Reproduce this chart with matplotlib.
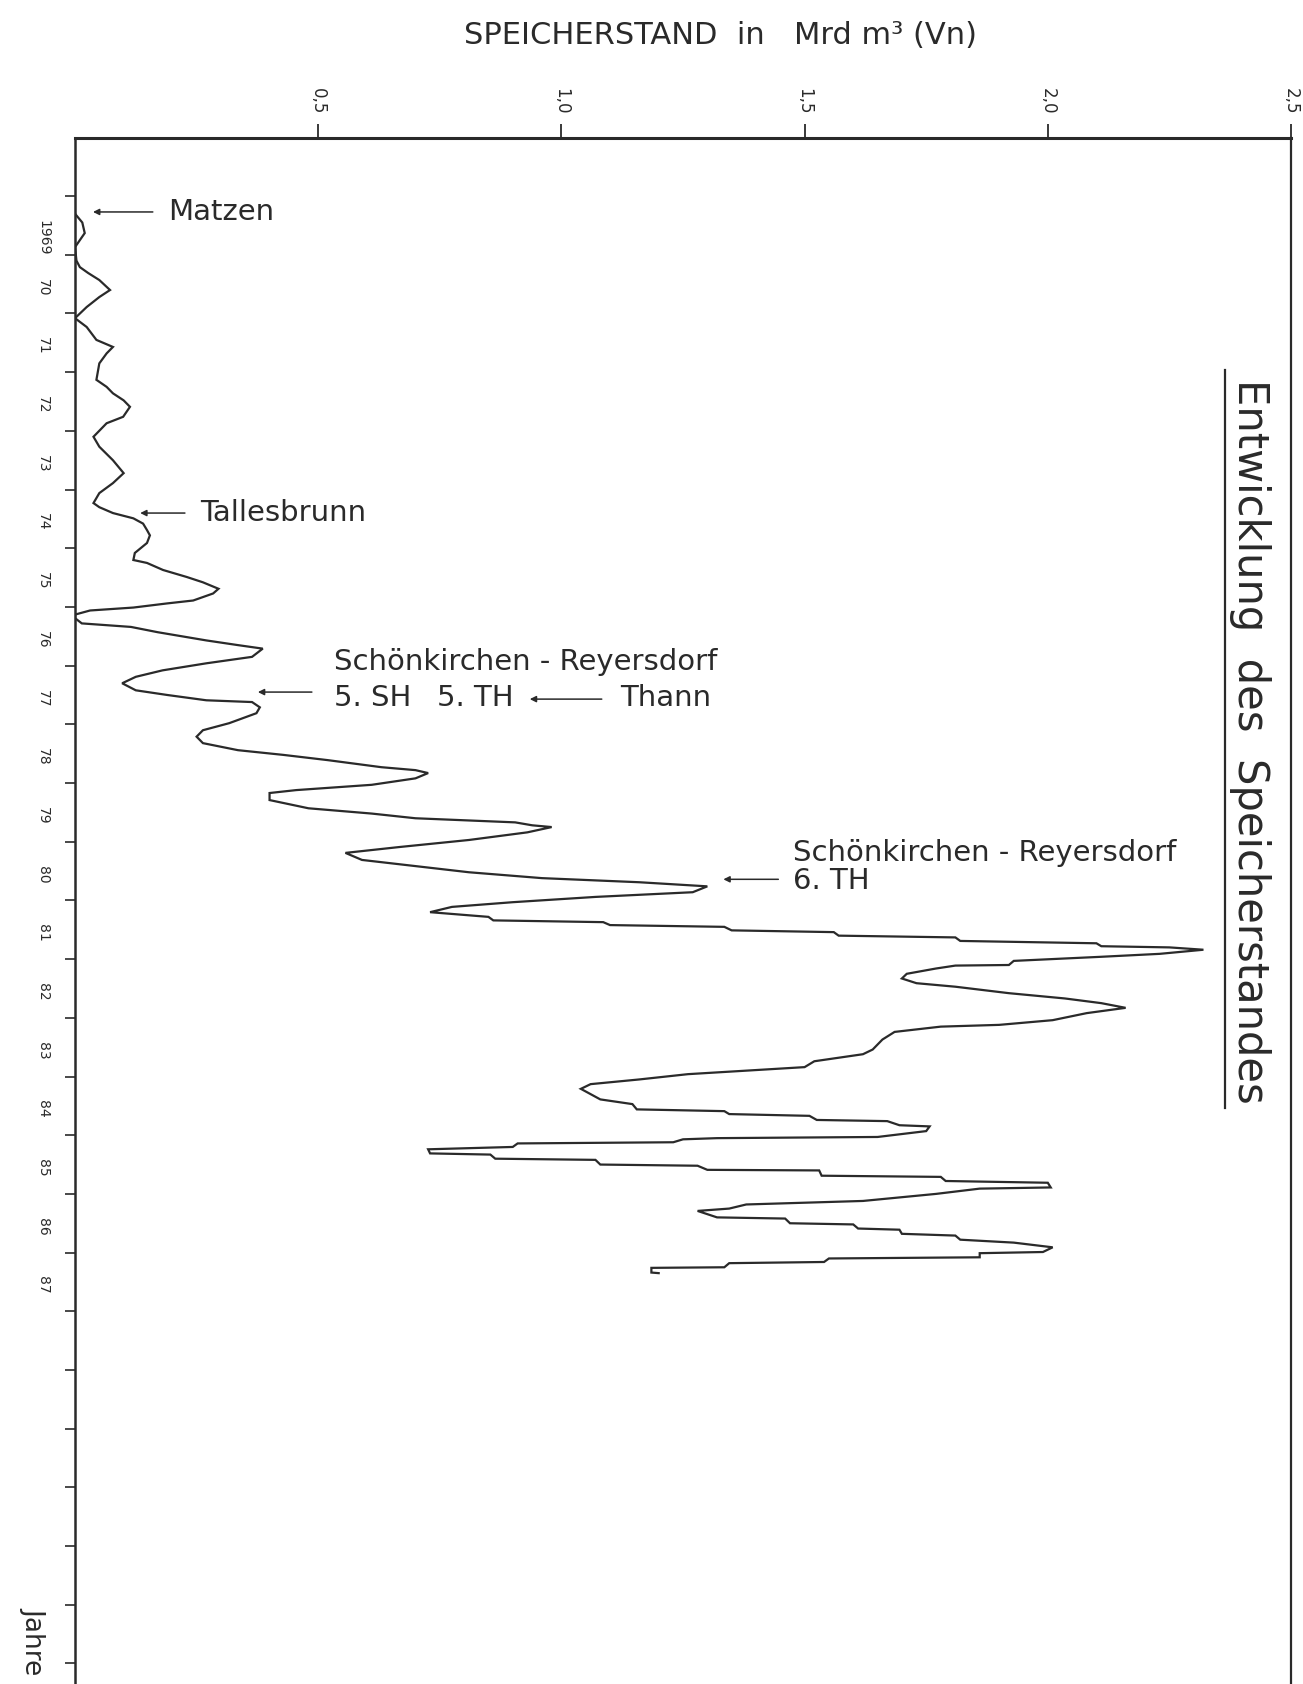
import matplotlib
matplotlib.use("Agg")
import matplotlib.pyplot as plt
from matplotlib.lines import Line2D

# storage level (Mrd m3 Vn) against time (decimal years)
years = [1969.30, 1969.45, 1969.63, 1969.75, 1969.87, 1970.10, 1970.21, 1970.31, 1970.43, 1970.60,
         1970.72, 1970.89, 1971.08, 1971.23, 1971.45, 1971.57, 1971.68, 1971.85, 1972.13, 1972.25,
         1972.36, 1972.48, 1972.59, 1972.76, 1972.87, 1973.10, 1973.27, 1973.50, 1973.72, 1973.89,
         1974.06, 1974.23, 1974.30, 1974.40, 1974.49, 1974.58, 1974.69, 1974.78, 1974.91, 1975.08,
         1975.20, 1975.25, 1975.37, 1975.49, 1975.58, 1975.69, 1975.77, 1975.89, 1975.94, 1976.01,
         1976.06, 1976.13, 1976.19, 1976.28, 1976.34, 1976.43, 1976.57, 1976.65, 1976.71, 1976.85,
         1976.96, 1977.08, 1977.19, 1977.30, 1977.42, 1977.50, 1977.59, 1977.62, 1977.71, 1977.81,
         1977.98, 1978.10, 1978.21, 1978.32, 1978.44, 1978.52, 1978.61, 1978.73, 1978.78, 1978.83,
         1978.92, 1979.03, 1979.12, 1979.17, 1979.29, 1979.43, 1979.52, 1979.60, 1979.67, 1979.72,
         1979.75, 1979.84, 1979.97, 1980.09, 1980.19, 1980.31, 1980.40, 1980.52, 1980.62, 1980.69,
         1980.76, 1980.86, 1980.94, 1981.03, 1981.11, 1981.20, 1981.28, 1981.34, 1981.37, 1981.42,
         1981.45, 1981.51, 1981.54, 1981.60, 1981.63, 1981.69, 1981.73, 1981.78, 1981.80, 1981.84,
         1981.91, 1981.96, 1982.03, 1982.10, 1982.11, 1982.16, 1982.25, 1982.33, 1982.41, 1982.47,
         1982.58, 1982.67, 1982.75, 1982.83, 1982.92, 1983.04, 1983.12, 1983.15, 1983.24, 1983.37,
         1983.54, 1983.62, 1983.74, 1983.84, 1983.91, 1983.96, 1984.05, 1984.13, 1984.21, 1984.39,
         1984.47, 1984.56, 1984.59, 1984.64, 1984.67, 1984.74, 1984.76, 1984.83, 1984.85, 1984.93,
         1985.03, 1985.05, 1985.07, 1985.12, 1985.14, 1985.20, 1985.24, 1985.31, 1985.33, 1985.40,
         1985.42, 1985.50, 1985.52, 1985.59, 1985.60, 1985.69, 1985.71, 1985.78, 1985.81, 1985.89,
         1985.91, 1986.00, 1986.12, 1986.18, 1986.25, 1986.29, 1986.40, 1986.42, 1986.50, 1986.52,
         1986.59, 1986.61, 1986.68, 1986.71, 1986.78, 1986.83, 1986.88, 1986.91, 1986.99, 1987.01,
         1987.08, 1987.10, 1987.16, 1987.18, 1987.25, 1987.26, 1987.34, 1987.35]
storage = [0.00, 0.015, 0.02, 0.01, 0.00, 0.003, 0.01, 0.027, 0.05, 0.072,
           0.05, 0.024, 0.00, 0.024, 0.044, 0.078, 0.065, 0.05, 0.044, 0.065,
           0.078, 0.10, 0.113, 0.099, 0.065, 0.038, 0.05, 0.078, 0.10, 0.078,
           0.05, 0.038, 0.05, 0.078, 0.12, 0.14, 0.148, 0.154, 0.148, 0.123,
           0.12, 0.148, 0.181, 0.23, 0.263, 0.295, 0.284, 0.243, 0.189, 0.12,
           0.031, 0.00, 0.00, 0.014, 0.115, 0.17, 0.27, 0.335, 0.386, 0.364,
           0.27, 0.18, 0.125, 0.097, 0.125, 0.19, 0.27, 0.364, 0.38, 0.373,
           0.317, 0.263, 0.25, 0.263, 0.335, 0.428, 0.52, 0.63, 0.70, 0.726,
           0.70, 0.61, 0.455, 0.40, 0.40, 0.48, 0.61, 0.70, 0.905, 0.94,
           0.98, 0.93, 0.81, 0.667, 0.556, 0.59, 0.685, 0.81, 0.96, 1.16,
           1.30, 1.27, 1.07, 0.90, 0.775, 0.73, 0.85, 0.86, 1.086, 1.10,
           1.335, 1.35, 1.56, 1.57, 1.81, 1.82, 2.10, 2.11, 2.25, 2.32,
           2.23, 2.11, 1.93, 1.92, 1.81, 1.77, 1.71, 1.70, 1.73, 1.81,
           1.92, 2.035, 2.11, 2.16, 2.08, 2.01, 1.90, 1.78, 1.685, 1.66,
           1.64, 1.62, 1.52, 1.50, 1.36, 1.26, 1.16, 1.06, 1.04, 1.08,
           1.146, 1.155, 1.335, 1.345, 1.51, 1.525, 1.67, 1.695, 1.757, 1.75,
           1.65, 1.32, 1.25, 1.23, 0.91, 0.90, 0.726, 0.73, 0.854, 0.864,
           1.07, 1.08, 1.28, 1.30, 1.53, 1.535, 1.78, 1.79, 2.00, 2.006,
           1.86, 1.77, 1.62, 1.38, 1.345, 1.28, 1.32, 1.46, 1.47, 1.60,
           1.61, 1.695, 1.70, 1.81, 1.82, 1.93, 1.98, 2.01, 1.99, 1.86,
           1.86, 1.55, 1.54, 1.345, 1.335, 1.185, 1.185, 1.20]

xticks = [0.5, 1.0, 1.5, 2.0, 2.5]
xtick_labels = ['0,5', '1,0', '1,5', '2,0', '2,5']
year_ticks = list(range(1969, 1995))
year_labels = ['1969'] + [str(y % 100) for y in range(1970, 1988)]

W, H = 1303, 1684
fig = plt.figure(figsize=(W / 100, H / 100), dpi=100)
ax = fig.add_axes([75 / W, 0, (1291 - 75) / W, (H - 138) / H])

ink = '#2a2a2a'
ax.plot(storage, years, color=ink, lw=1.6, solid_joinstyle='miter')

ax.set_xlim(0, 2.5)
ax.set_ylim(1994.35, 1968.01)

ax.xaxis.tick_top()
ax.set_xticks(xticks)
ax.set_xticklabels(xtick_labels, rotation=-90, fontsize=12, color=ink)
ax.tick_params(axis='x', direction='out', length=10, width=1.3, pad=7, colors=ink)

ax.set_yticks(year_ticks)
ax.set_yticklabels([])
ax.set_yticks([y + 0.5 for y in range(1969, 1988)], minor=True)
ax.set_yticklabels(year_labels, minor=True, rotation=-90, fontsize=10, color=ink)
ax.tick_params(axis='y', which='major', direction='out', length=7, width=1.2, colors=ink)
ax.tick_params(axis='y', which='minor', length=0, pad=18)

ax.spines['bottom'].set_visible(False)
ax.spines['top'].set_linewidth(2.2)
ax.spines['left'].set_linewidth(1.8)
ax.spines['right'].set_linewidth(1.6)
for s in ['top', 'left', 'right']:
    ax.spines[s].set_color(ink)

arrow = dict(arrowstyle='-|>', lw=1.1, color=ink, mutation_scale=9, shrinkA=0, shrinkB=0)
fs = 21

ax.annotate('', xy=(0.037, 1969.27), xytext=(0.160, 1969.27), arrowprops=arrow)
ax.text(0.191, 1969.27, 'Matzen', fontsize=fs, va='center', ha='left', color=ink)

ax.annotate('', xy=(0.134, 1974.40), xytext=(0.226, 1974.40), arrowprops=arrow)
ax.text(0.257, 1974.40, 'Tallesbrunn', fontsize=fs, va='center', ha='left', color=ink)

ax.text(0.532, 1976.94, 'Schönkirchen - Reyersdorf', fontsize=fs, va='center', ha='left', color=ink)
ax.text(0.532, 1977.55, '5. SH', fontsize=fs, va='center', ha='left', color=ink)
ax.text(0.745, 1977.55, '5. TH', fontsize=fs, va='center', ha='left', color=ink)
ax.annotate('', xy=(0.935, 1977.57), xytext=(1.083, 1977.57), arrowprops=arrow)
ax.annotate('', xy=(0.376, 1977.45), xytext=(0.487, 1977.45), arrowprops=arrow)
ax.text(1.12, 1977.55, 'Thann', fontsize=fs, va='center', ha='left', color=ink)

ax.text(1.477, 1980.19, 'Schönkirchen - Reyersdorf', fontsize=fs, va='center', ha='left', color=ink)
ax.text(1.477, 1980.67, '6. TH', fontsize=fs, va='center', ha='left', color=ink)
ax.annotate('', xy=(1.333, 1980.64), xytext=(1.446, 1980.64), arrowprops=arrow)

fig.text(720 / W, 1 - 35 / H, 'SPEICHERSTAND  in   Mrd m³ (Vn)', fontsize=22,
         ha='center', va='center', color=ink)
fig.text(1250 / W, 1 - 741 / H, 'Entwicklung  des  Speicherstandes', fontsize=30,
         rotation=-90, ha='center', va='center', color=ink)
fig.add_artist(Line2D([1225 / W, 1225 / W], [1 - 370 / H, 1 - 1108 / H],
                      transform=fig.transFigure, color=ink, lw=1.6))
fig.text(33 / W, 1 - 1641 / H, 'Jahre', fontsize=19, rotation=-90,
         ha='center', va='center', color=ink)

fig.savefig('out.png', dpi=100)
